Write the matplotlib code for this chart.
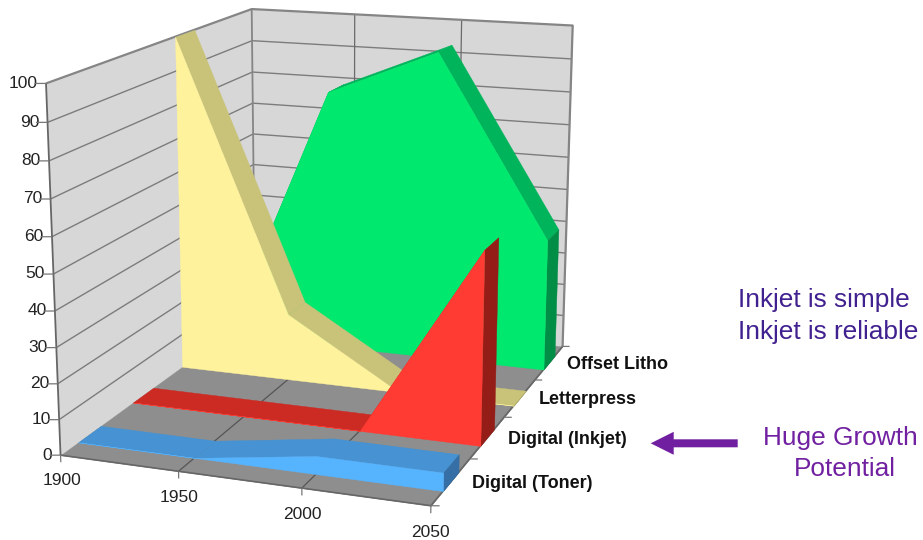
import matplotlib
matplotlib.use('Agg')
import matplotlib.pyplot as plt
import numpy as np
from matplotlib.patches import FancyArrow
from matplotlib.transforms import Affine2D
from mpl_toolkits.mplot3d.art3d import Line3DCollection, Poly3DCollection

plt.rcParams['font.family'] = ['Liberation Sans', 'DejaVu Sans']

# chart data
years = [1900, 1950, 2000, 2050]
series_names = ['Digital (Toner)', 'Digital (Inkjet)', 'Letterpress', 'Offset Litho']
toner = [0, 0, 5, 5]
inkjet = [0, 0, 0, 54.5]
letterpress = [100, 20, 0, 0]
offset_litho = [0, 80, 94, 40]
value_ticks = [0, 10, 20, 30, 40, 50, 60, 70, 80, 90, 100]

W, H = 923, 540
ribbon = 0.2  # half the ribbon width, in depth units

# where the corners of the box sit in the picture, used to solve the camera
box_corners = [((1900, 0, 0), (60.7, 455)), ((2050, 0, 0), (430.7, 506)),
               ((2050, 4, 0), (562.7, 346)), ((1900, 4, 0), (255, 314)),
               ((1900, 0, 100), (46, 83.3)), ((1900, 4, 100), (251.7, 9)),
               ((2050, 4, 100), (572.7, 25.7))]


def solve_camera():
    A, b = [], []
    for (x, y, z), (u, v) in box_corners:
        t, d, h = (x - 1900) / 150, y / 4, z / 100
        A.append([t, d, h, 1, 0, 0, 0, 0, -u * t, -u * d, -u * h])
        b.append(u)
        A.append([0, 0, 0, 0, t, d, h, 1, -v * t, -v * d, -v * h])
        b.append(v)
    p = np.linalg.lstsq(np.array(A), np.array(b), rcond=None)[0]
    P = np.append(p, 1).reshape(3, 4)
    T = np.array([[1 / 150, 0, 0, -1900 / 150], [0, 1 / 4, 0, 0], [0, 0, 1 / 100, 0], [0, 0, 0, 1]])
    return P @ T


camera = solve_camera()

fig = plt.figure(figsize=(W / 100, H / 100), dpi=100)
ax = fig.add_axes([0, 0, 1, 1], projection='3d', computed_zorder=False)
ax.set_axis_off()
ax.set_xlim(1900, 2050)
ax.set_ylim(0, 4)
ax.set_zlim(0, 100)


def fixed_proj():
    x0, x1 = ax.viewLim.intervalx
    y0, y1 = ax.viewLim.intervaly
    r_u, r_v, r_w = camera
    return np.array([x0 * r_w + (x1 - x0) / W * r_u,
                     y1 * r_w - (y1 - y0) / H * r_v,
                     [0, 1, 0, 0],
                     r_w])


ax.get_proj = fixed_proj
ax.apply_aspect = lambda position=None: None

z_now = [1]


def face(points, color):
    poly = Poly3DCollection([points], facecolors=color, edgecolors=color, linewidths=0.3)
    z_now[0] += 1
    poly.set_zorder(z_now[0])
    ax.add_collection3d(poly)


def line(xs, ys, zs, color='#777777', lw=1.0):
    seg = Line3DCollection([list(zip(xs, ys, zs))], colors=color, linewidths=lw)
    z_now[0] += 1
    seg.set_zorder(z_now[0])
    ax.add_collection3d(seg)


# walls and floor
face([(1900, 0, 0), (1900, 4, 0), (1900, 4, 100), (1900, 0, 100)], '#d7d7d7')
face([(1900, 4, 0), (2050, 4, 0), (2050, 4, 100), (1900, 4, 100)], '#d7d7d7')
face([(1900, 0, 0), (2050, 0, 0), (2050, 4, 0), (1900, 4, 0)], '#8e8e8e')

for v in value_ticks[1:-1]:
    line([1900, 1900, 2050], [0, 4, 4], [v, v, v], '#7c7c7c', 1.0)
for y in years[1:3]:
    line([y, y], [4, 4], [0, 100], '#6a6a6a', 0.9)
    line([y, y], [0, 4], [0, 0], '#555555', 0.9)

line([1900, 1900, 2050, 2050], [0, 4, 4, 4], [100, 100, 100, 0], '#858585', 1.6)
line([1900, 1900], [4, 4], [0, 100], '#858585', 1.3)
line([1900, 1900], [0, 0], [0, 100], '#666666', 1.3)
line([1900, 2050, 2050], [0, 0, 4], [0, 0, 0], '#666666', 1.2)

# ticks
for v in value_ticks:
    line([1900, 1896], [0, -0.03], [v, v], '#777777', 0.9)
    ax.text(1897, -0.02, v, str(v), ha='right', va='center', fontsize=12.5, color='#222222')
for y in years:
    line([y, y], [0, 0], [0, -2], '#777777', 0.9)
    ax.text(y, 0, -7.2, str(y), ha='center', va='center', fontsize=12.5, color='#222222')
for d in range(5):
    line([2050, 2053], [d, d + 0.02], [0, 0], '#777777', 0.9)

# series, back to front: top surface, end face, front face
styles = [(toner, '#56b4ff', '#4692d2', '#356fa5'),
          (inkjet, '#ff3b33', '#cc2b24', '#951d17'),
          (letterpress, '#fff29c', '#c9c37a', '#a8a25c'),
          (offset_litho, '#00e86d', '#00b45b', '#008e47')]

for i in [3, 2, 1, 0]:
    values, front, top, side = styles[i]
    d0, d1 = i + 0.5 - ribbon, i + 0.5 + ribbon
    for k in range(len(years) - 1):
        face([(years[k], d0, values[k]), (years[k + 1], d0, values[k + 1]),
              (years[k + 1], d1, values[k + 1]), (years[k], d1, values[k])], top)
    face([(2050, d0, 0), (2050, d1, 0), (2050, d1, values[-1]), (2050, d0, values[-1])], side)
    outline = [(1900, d0, 0), (2050, d0, 0)] + [(y, d0, v) for y, v in zip(years[::-1], values[::-1])]
    face(outline, front)

for i, name in enumerate(series_names):
    ax.text(2058, i + 0.52, 0, name, ha='left', va='center', fontsize=13,
            fontweight='bold', color='#111111')

# side notes, placed in picture pixels
pix = Affine2D().scale(1, -1).translate(0, H)
fig.text(737.5, 300, 'Inkjet is simple', transform=pix, fontsize=18.9, color='#41208f', ha='left', va='center')
fig.text(737.5, 332, 'Inkjet is reliable', transform=pix, fontsize=18.9, color='#41208f', ha='left', va='center')
fig.text(840, 437.5, 'Huge Growth', transform=pix, fontsize=18.9, color='#7020a0', ha='center', va='center')
fig.text(844.5, 469, 'Potential', transform=pix, fontsize=18.9, color='#7020a0', ha='center', va='center')
fig.add_artist(FancyArrow(737.7, 443.3, -87, 0, width=8, head_width=23, head_length=23,
                          length_includes_head=True, color='#6f1f9f', lw=0, transform=pix))

fig.savefig('out.png', dpi=100)
